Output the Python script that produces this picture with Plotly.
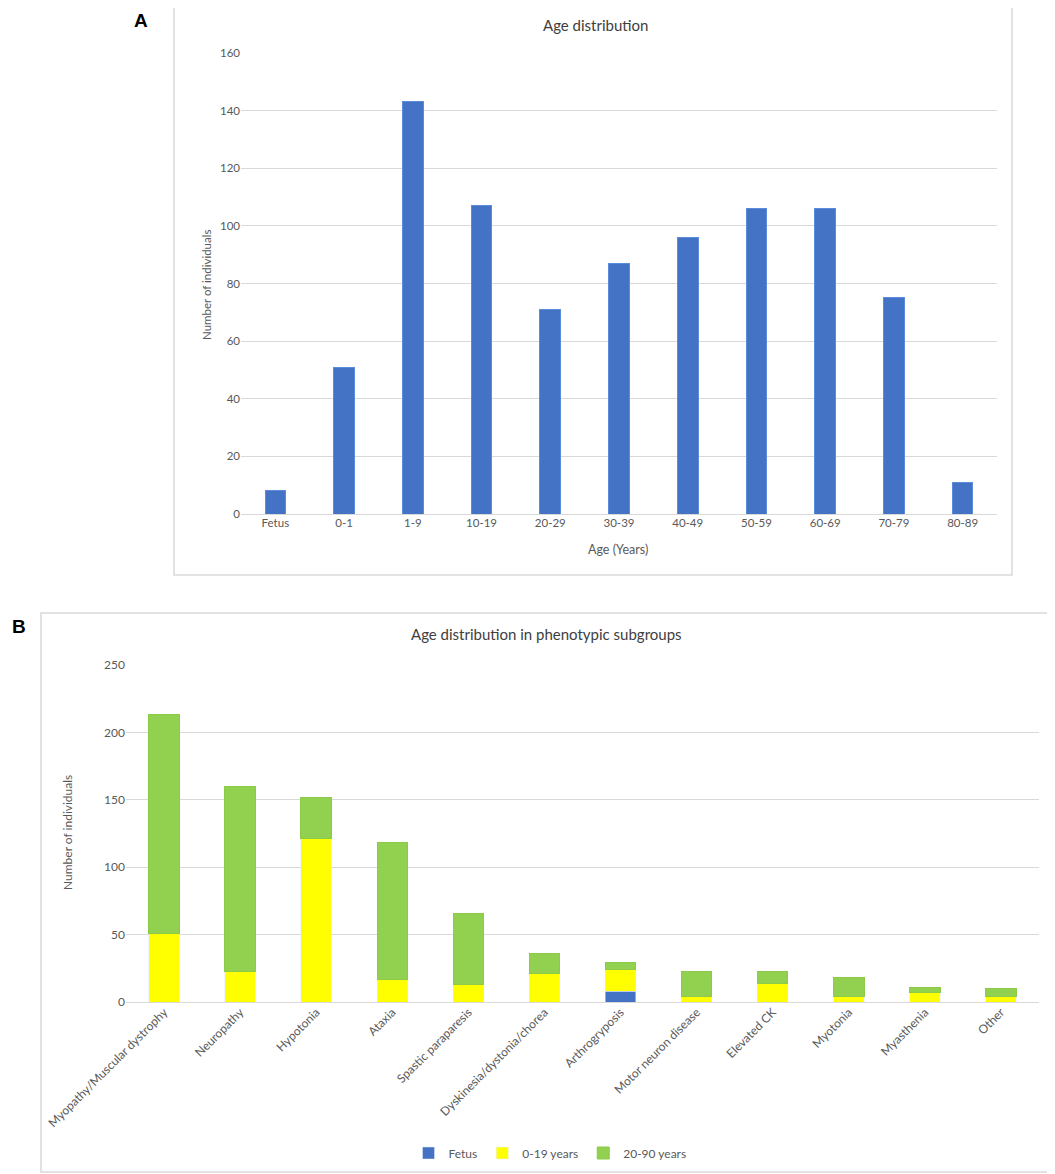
import plotly.graph_objects as go

# Panel A - age distribution
age_groups = ['Fetus', '0-1', '1-9', '10-19', '20-29', '30-39', '40-49', '50-59', '60-69', '70-79', '80-89']
age_counts = [8, 51, 143, 107, 71, 87, 96, 106, 106, 75, 11]

# Panel B - age distribution per phenotypic subgroup
phenotypes = ['Myopathy/Muscular dystrophy', 'Neuropathy', 'Hypotonia', 'Ataxia', 'Spastic paraparesis',
              'Dyskinesia/dystonia/chorea', 'Arthrogryposis', 'Motor neuron disease', 'Elevated CK',
              'Myotonia', 'Myasthenia', 'Other']
fetus = [0, 0, 0, 0, 0, 0, 8, 0, 0, 0, 0, 0]
young = [51, 23, 121, 17, 13, 21, 16, 4, 14, 4, 7, 4]
adult = [162, 137, 31, 101, 53, 15, 5, 19, 9, 14, 4, 6]

W, H = 1055, 1174
OFF = 8  # page body margin
FONT = 'Lato'
GREY = '#595959'
GRID = '#D9D9D9'


def px_x(x):
    return (x - OFF) / W


def px_y(y):
    return 1 - (y - OFF) / H


fig = go.Figure()

fig.add_trace(go.Bar(x=age_groups, y=age_counts, marker_color='#4472C4',
                     marker_line=dict(color='#5B8BDB', width=1), width=0.3,
                     showlegend=False, xaxis='x', yaxis='y'))

fig.add_trace(go.Bar(x=phenotypes, y=fetus, name='Fetus', marker_color='#4472C4',
                     width=0.4, xaxis='x2', yaxis='y2'))
fig.add_trace(go.Bar(x=phenotypes, y=young, name='0-19 years', marker_color='#FFFF00',
                     width=0.4, xaxis='x2', yaxis='y2'))
fig.add_trace(go.Bar(x=phenotypes, y=adult, name='20-90 years', marker_color='#92D050',
                     marker_line=dict(color='#8CCB4A', width=1), width=0.4, xaxis='x2', yaxis='y2'))

axis_common = dict(showline=False, ticks='', automargin=False)

fig.update_layout(
    width=W, height=H,
    margin=dict(l=0, r=0, t=0, b=0),
    paper_bgcolor='white', plot_bgcolor='white',
    barmode='stack',
    font=dict(family=FONT, color=GREY),
    xaxis=dict(domain=[px_x(241), px_x(997)], anchor='y', showgrid=False, zeroline=False,
               tickfont=dict(family=FONT, size=11.5, color=GREY), **axis_common),
    yaxis=dict(domain=[px_y(514), px_y(53)], anchor='x', range=[0, 160], dtick=20,
               tickfont=dict(family=FONT, size=11.5, color=GREY),
               gridcolor=GRID, zeroline=True, zerolinecolor=GRID, zerolinewidth=1, **axis_common),
    xaxis2=dict(domain=[px_x(126), px_x(1039)], anchor='y2', showgrid=False, zeroline=False,
                tickangle=-45, tickfont=dict(family=FONT, size=12, color=GREY), **axis_common),
    yaxis2=dict(domain=[px_y(1002), px_y(665)], anchor='x2', range=[0, 250], dtick=50,
                tickfont=dict(family=FONT, size=12, color=GREY),
                gridcolor=GRID, zeroline=True, zerolinecolor=GRID, zerolinewidth=1, **axis_common),
    legend=dict(orientation='h', x=px_x(550), xanchor='center', y=px_y(1153), yanchor='middle',
                font=dict(family=FONT, size=12, color=GREY), traceorder='normal',
                itemwidth=30, tracegroupgap=0),
)

# Frames round both panels
for x0, y0, x1, y1 in [(174, 2, 1012, 575), (41, 613, 1052, 1172)]:
    fig.add_shape(type='rect', xref='paper', yref='paper',
                  x0=px_x(x0), y0=px_y(y1), x1=px_x(x1), y1=px_y(y0),
                  line=dict(color='#D9D9D9', width=1.5), layer='below')

texts = [
    ('A', 141, 20, 19, 'black', 0, 'bold'),
    ('B', 19, 626, 19, 'black', 0, 'bold'),
    ('Age distribution', 595, 25, 15, '#404040', 0, FONT),
    ('Age distribution in phenotypic subgroups', 547, 634, 15, '#404040', 0, FONT),
    ('Age (Years)', 618, 549, 12.5, GREY, 0, FONT),
    ('Number of individuals', 206, 285, 11.5, GREY, -90, FONT),
    ('Number of individuals', 67, 833, 12, GREY, -90, FONT),
]
for text, x, y, size, color, angle, family in texts:
    bold = family == 'bold'
    fig.add_annotation(text='<b>%s</b>' % text if bold else text,
                       xref='paper', yref='paper', x=px_x(x), y=px_y(y),
                       xanchor='center', yanchor='middle', showarrow=False, textangle=angle,
                       font=dict(family='Liberation Sans' if bold else family,
                                 size=size, color=color))

fig.write_html("out.html")
